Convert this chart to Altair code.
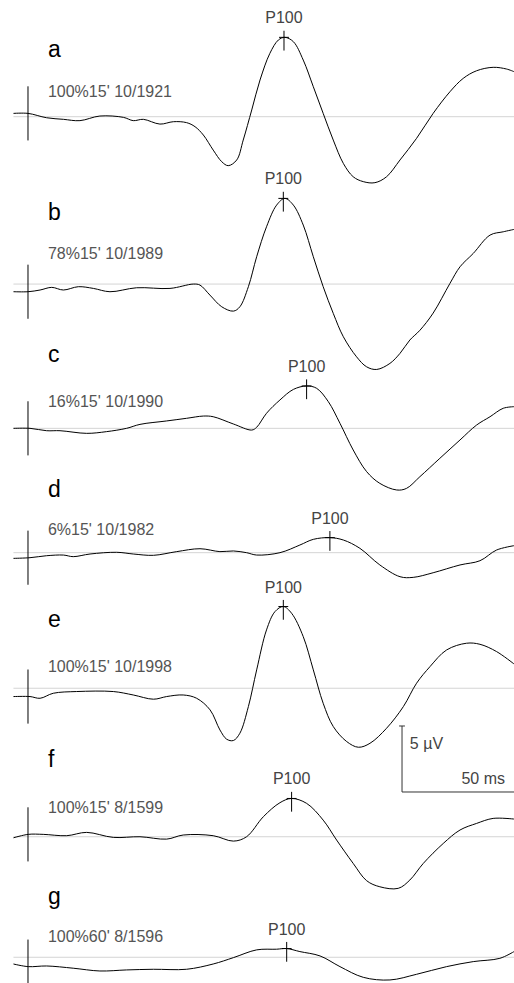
import altair as alt
import pandas as pd

# ---- data (time in ms, amplitude in µV) ----
names = ["a", "b", "c", "d", "e", "f", "g"]
labels = ["100%15' 10/1921", "78%15' 10/1989", "16%15' 10/1990", "6%15' 10/1982",
          "100%15' 10/1998", "100%15' 8/1599", "100%60' 8/1596"]
offsets = [-8.84, -21.52, -32.45, -41.87, -52.14, -63.39, -72.52]   # vertical stacking of traces (µV)
letter_dy = [5.05, 5.38, 5.55, 4.75, 5.17, 5.81, 4.57]
label_dy = [1.87, 2.27, 1.99, 1.72, 1.61, 2.17, 1.54]
p100_t = [114.3, 114.0, 124.4, 134.8, 114.0, 117.7, 115.5]
p100_v = [6.01, 6.49, 3.21, 1.14, 6.19, 2.90, 0.66]

t_a = [-6.5, 0, 8.3, 15.8, 23.2, 32.1, 42.6, 47.0, 51.5, 58.9, 64.9, 70.8, 74.6, 78.3, 82.7, 86.5, 89.4,
       93.2, 96.1, 99.9, 103.6, 108.0, 111.8, 114.7, 118.5, 122.9, 127.4, 131.8, 136.3, 140.8, 145.2,
       149.7, 154.9, 160.1, 166.1, 173.5, 180.9, 188.4, 194.3, 200.3, 207.7, 213.7, 217.0]
v_a = [0.25, 0.25, -0.08, -0.2, -0.3, 0.05, -0.05, -0.3, -0.2, -0.56, -0.38, -0.45, -0.76, -1.39, -2.53,
       -3.41, -3.71, -3.28, -1.77, 0.51, 2.78, 4.80, 5.81, 6.01, 5.68, 4.29, 2.27, 0.25, -1.77, -3.54,
       -4.55, -4.92, -5.0, -4.55, -3.28, -1.64, 0.25, 1.89, 2.90, 3.48, 3.74, 3.61, 3.41]

t_b = [-6.5, 0, 5.4, 10.6, 15.8, 22.5, 29.2, 36.6, 48.5, 63.4, 73.8, 76.8, 81.2, 86.5, 91.7, 94.6, 98.4,
       102.1, 106.5, 111.0, 114.7, 118.5, 122.9, 127.4, 131.8, 136.3, 140.8, 146.7, 151.2, 155.7, 161.6,
       166.1, 170.5, 175.0, 180.9, 188.4, 192.9, 198.8, 206.3, 212.2, 217.0]
v_b = [-0.58, -0.58, -0.45, -0.25, -0.45, -0.2, -0.33, -0.58, -0.28, -0.33, 0.0, -0.08, -0.83, -1.72,
       -2.05, -1.72, -0.2, 2.07, 4.34, 5.98, 6.49, 5.98, 4.47, 2.07, -0.2, -2.22, -3.99, -5.51, -6.27,
       -6.47, -6.01, -5.25, -4.24, -3.5, -2.2, 0.05, 1.31, 2.32, 3.71, 3.96, 4.14]

t_c = [-6.5, 0.9, 8.3, 14.3, 26.2, 35.1, 44.0, 50.0, 61.9, 70.8, 78.3, 82.7, 91.7, 99.9, 102.1, 106.5,
       112.5, 118.5, 124.4, 128.9, 134.1, 139.3, 145.2, 151.2, 157.1, 164.6, 169.0, 175.0, 183.9, 192.9,
       200.3, 206.3, 212.2, 217.0]
v_c = [0.0, 0.0, -0.18, -0.18, -0.38, -0.25, 0.0, 0.30, 0.56, 0.76, 0.93, 0.88, 0.33, -0.13, 0.08, 1.14,
       2.15, 2.95, 3.21, 3.03, 2.02, 0.38, -1.64, -3.28, -4.17, -4.67, -4.55, -3.66, -2.27, -0.88, 0.25,
       0.88, 1.52, 1.64]

t_d = [-6.5, 0.9, 8.3, 15.8, 20.2, 27.7, 39.6, 47.0, 56.0, 66.4, 76.8, 85.7, 91.7, 97.6, 102.1, 112.5,
       121.4, 127.4, 134.8, 140.8, 148.2, 157.1, 166.1, 172.0, 180.9, 192.9, 201.8, 209.2, 217.0]
v_d = [-0.43, -0.38, -0.23, -0.18, -0.30, -0.10, 0.03, -0.10, -0.20, 0.08, 0.30, 0.08, 0.13, 0.0, -0.18,
       0.0, 0.58, 1.01, 1.14, 0.96, 0.33, -0.93, -1.82, -1.87, -1.52, -0.93, -0.61, 0.20, 0.53]

t_e = [-6.5, 0.9, 5.4, 11.3, 21.7, 38.1, 47.0, 56.0, 61.9, 69.3, 75.3, 81.3, 85.7, 88.7, 91.7, 94.6, 98.4,
       102.1, 106.5, 110.3, 114.0, 117.7, 122.9, 127.4, 131.8, 136.3, 142.3, 147.5, 152.7, 160.1, 167.6,
       173.5, 179.5, 186.9, 195.8, 201.8, 209.2, 217.0]
v_e = [-0.63, -0.63, -0.76, -0.38, -0.25, -0.25, -0.51, -0.83, -0.63, -0.51, -0.76, -1.64, -3.16, -3.86,
       -3.96, -3.41, -1.39, 1.39, 4.42, 5.81, 6.19, 5.68, 3.91, 1.39, -1.14, -2.90, -4.04, -4.47, -4.17,
       -3.03, -1.39, 0.38, 1.64, 2.90, 3.41, 3.33, 2.78, 1.84]

t_f = [-6.5, 0.1, 6.8, 17.3, 26.2, 38.1, 50.0, 61.9, 69.3, 82.7, 91.7, 97.6, 105.1, 112.5, 117.7, 124.4,
       131.8, 137.8, 145.2, 151.2, 157.1, 165.3, 170.5, 176.5, 185.4, 192.9, 200.3, 207.7, 217.0]
v_f = [-0.08, 0.18, 0.18, 0.08, 0.33, -0.05, 0.0, -0.18, 0.13, 0.08, -0.33, 0.0, 1.52, 2.58, 2.90, 2.53,
       1.26, -0.25, -2.02, -3.33, -3.79, -3.91, -3.28, -2.02, -0.51, 0.51, 1.01, 1.39, 1.34]

t_g = [-6.5, 0.1, 8.3, 20.2, 32.1, 44.0, 56.0, 70.8, 82.7, 91.7, 102.1, 111.0, 115.5, 121.4, 130.4, 139.3,
       149.7, 161.6, 173.5, 186.9, 198.8, 210.7, 217.0]
v_g = [-0.51, -0.71, -0.66, -0.83, -1.04, -0.96, -0.91, -0.91, -0.51, -0.03, 0.56, 0.61, 0.66, 0.43, 0.10,
       -0.71, -1.52, -1.72, -1.29, -0.71, -0.33, -0.08, 0.43]

series_t = [t_a, t_b, t_c, t_d, t_e, t_f, t_g]
series_v = [v_a, v_b, v_c, v_d, v_e, v_f, v_g]

t_start, t_end = -6.5, 217.0
label_t = 8.9
# scale bar: 5 µV / 50 ms
sb_t0, sb_len_ms = 167.0, 50.0
sb_bottom, sb_height_uv = -60.0, 5.0
sb_labels = ["5 µV", "50 ms"]

# ---- tables ----
rows = []
for name, off, ts, vs in zip(names, offsets, series_t, series_v):
    for i, (t, v) in enumerate(zip(ts, vs)):
        rows.append({"trace": name, "i": i, "t": t, "y": v + off})
wave = pd.DataFrame(rows)

info = pd.DataFrame({
    "trace": names, "label": labels, "off": offsets,
    "pt": p100_t, "pv": [p + o for p, o in zip(p100_v, offsets)],
    "v0": [vs[1] + o for vs, o in zip(series_v, offsets)],
    "ly": [o + d for o, d in zip(offsets, letter_dy)],
    "ty": [o + d for o, d in zip(offsets, label_dy)],
})
info["t0"] = t_start
info["t1"] = t_end
info["zero"] = 0.0
info["lt"] = label_t
info["v0a"] = info["v0"] + 2.05
info["v0b"] = info["v0"] - 2.05
info["pva"] = info["pv"] + 0.5
info["pvb"] = info["pv"] - 1.0
info["pta"] = info["pt"] - 2.2
info["ptb"] = info["pt"] + 2.2
info["p100"] = "P100"

sb = pd.DataFrame({
    "x0": [sb_t0], "x1": [sb_t0 + sb_len_ms],
    "y0": [sb_bottom], "y1": [sb_bottom + sb_height_uv],
    "cap0": [sb_t0 - 1.3], "cap1": [sb_t0 + 1.3],
})
sb_t1_df = pd.DataFrame({"t": [sb_t0 + 3.5], "y": [sb_bottom + 3.64], "txt": [sb_labels[0]]})
sb_t2_df = pd.DataFrame({"t": [sb_t0 + sb_len_ms - 4.0], "y": [sb_bottom + 1.0], "txt": [sb_labels[1]]})

xs = alt.Scale(domain=[-12.5, 217.0], nice=False, zero=False)
ys = alt.Scale(domain=[-74.47, 0.0], nice=False, zero=False)


def X(f):
    return alt.X(f, type="quantitative", scale=xs, axis=None)


def Y(f):
    return alt.Y(f, type="quantitative", scale=ys, axis=None)


FONT = "Liberation Sans"
base_i = alt.Chart(info)

baselines = base_i.mark_rule(color="#d4d4d4", strokeWidth=1).encode(
    x=X("t0"), x2="t1", y=Y("off"))

lines = alt.Chart(wave).mark_line(color="black", strokeWidth=1, interpolate="catmull-rom").encode(
    x=X("t"), y=Y("y"), detail="trace:N", order="i:Q")

start_v = base_i.mark_rule(color="black", strokeWidth=1).encode(
    x=X("zero"), y=Y("v0a"), y2="v0b")

p_v = base_i.mark_rule(color="black", strokeWidth=1).encode(
    x=X("pt"), y=Y("pva"), y2="pvb")
p_h = base_i.mark_rule(color="black", strokeWidth=1).encode(
    x=X("pta"), x2="ptb", y=Y("pv"))

p_txt = base_i.mark_text(font=FONT, fontSize=16, color="#444444",
                         baseline="middle", align="center", dy=-19).encode(
    x=X("pt"), y=Y("pv"), text="p100:N")

letters = base_i.mark_text(font=FONT, fontSize=23, color="black",
                           baseline="middle", align="left").encode(
    x=X("lt"), y=Y("ly"), text="trace:N")

lab = base_i.mark_text(font=FONT, fontSize=16, color="#555555",
                       baseline="middle", align="left").encode(
    x=X("lt"), y=Y("ty"), text="label:N")

sb_v = alt.Chart(sb).mark_rule(color="#333333", strokeWidth=1).encode(
    x=X("x0"), y=Y("y0"), y2="y1")
sb_h = alt.Chart(sb).mark_rule(color="#333333", strokeWidth=1).encode(
    x=X("x0"), x2="x1", y=Y("y0"))
sb_cap = alt.Chart(sb).mark_rule(color="#333333", strokeWidth=1).encode(
    x=X("cap0"), x2="cap1", y=Y("y1"))

sb_t1 = alt.Chart(sb_t1_df).mark_text(font=FONT, fontSize=16, color="#444444",
                                      baseline="middle", align="left").encode(
    x=X("t"), y=Y("y"), text="txt:N")
sb_t2 = alt.Chart(sb_t2_df).mark_text(font=FONT, fontSize=16, color="#444444",
                                      baseline="middle", align="right").encode(
    x=X("t"), y=Y("y"), text="txt:N")

chart = alt.layer(baselines, lines, start_v, p_v, p_h, p_txt, letters, lab,
                  sb_v, sb_h, sb_cap, sb_t1, sb_t2).properties(
    width=514, height=983, padding=0, autosize=alt.AutoSizeParams(type="none"),
    background="white"
).configure_view(stroke=None)

chart.save("out.html", embed_options={"renderer": "svg", "actions": False})
